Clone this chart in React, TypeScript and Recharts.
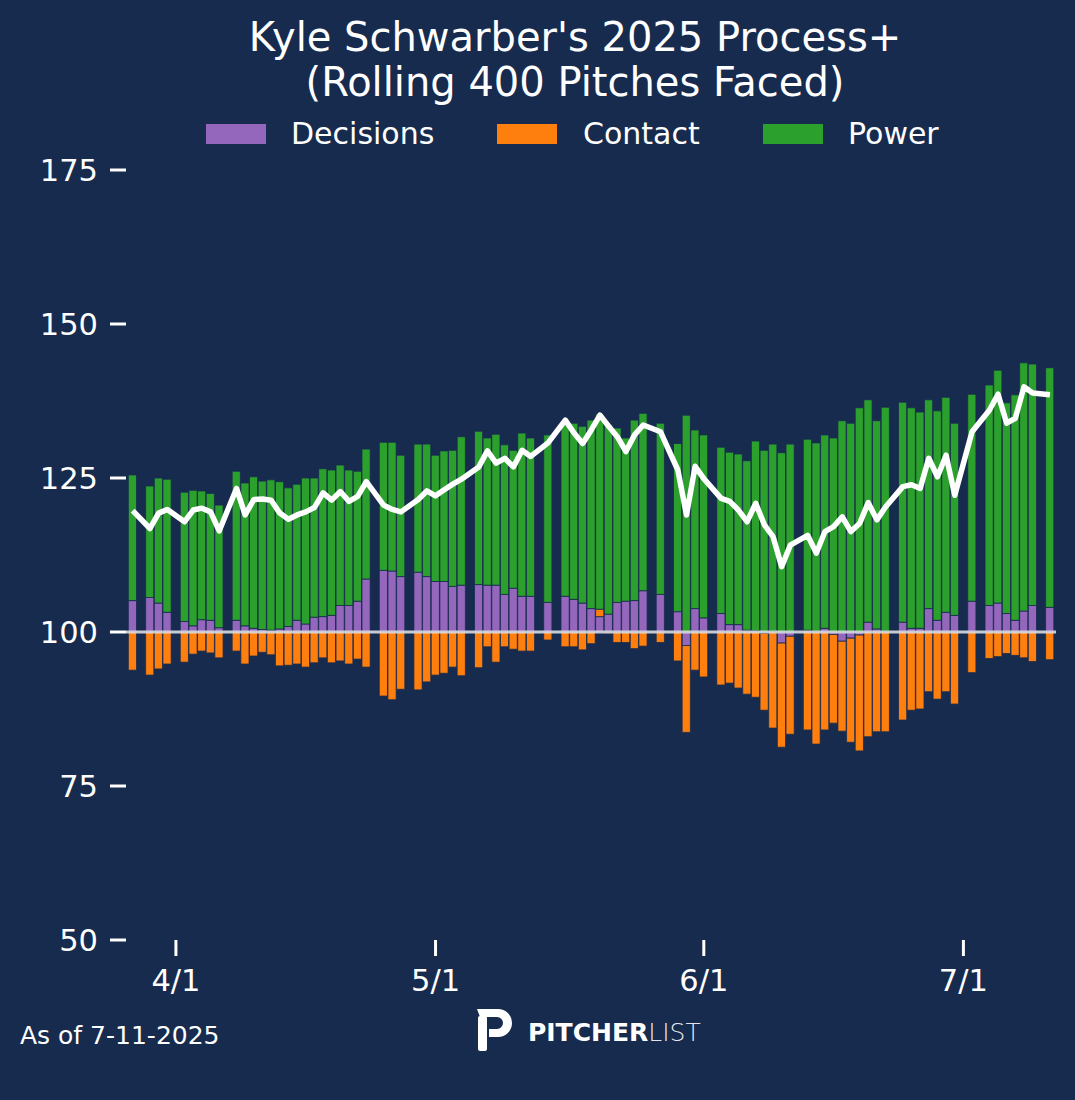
import React from "react";
import { ComposedChart, Bar, Line, XAxis, YAxis, ReferenceLine } from "recharts";

// game dates (off days are simply missing)
const gameDates = [
  "3/27", "3/29", "3/30", "3/31", "4/2", "4/3", "4/4", "4/5", "4/6", "4/8",
  "4/9", "4/10", "4/11", "4/12", "4/13", "4/14", "4/15", "4/16", "4/17", "4/18",
  "4/19", "4/20", "4/21", "4/22", "4/23", "4/25", "4/26", "4/27", "4/29", "4/30",
  "5/1", "5/2", "5/3", "5/4", "5/6", "5/7", "5/8", "5/9", "5/10", "5/11",
  "5/12", "5/14", "5/16", "5/17", "5/18", "5/19", "5/20", "5/21", "5/22", "5/23",
  "5/24", "5/25", "5/27", "5/29", "5/30", "5/31", "6/1", "6/3", "6/4", "6/5",
  "6/6", "6/7", "6/8", "6/9", "6/10", "6/11", "6/13", "6/14", "6/15", "6/16",
  "6/17", "6/18", "6/19", "6/20", "6/21", "6/22", "6/24", "6/25", "6/26", "6/27",
  "6/28", "6/29", "6/30", "7/2", "7/4", "7/5", "7/6", "7/7", "7/8", "7/9",
  "7/11",
];

// components of Process+, points above/below league average (100)
const decisions = [
  5.1, 5.6, 4.7, 3.2, 1.7, 1.0, 2.0, 1.9, 0.7, 1.9,
  1.0, 0.6, 0.4, 0.3, 0.5, 0.9, 1.9, 1.3, 2.4, 2.5,
  2.7, 4.3, 4.3, 5.0, 8.6, 10.0, 9.9, 9.0, 9.7, 9.0,
  8.2, 8.2, 7.4, 7.6, 7.7, 7.6, 7.6, 6.1, 7.1, 5.8,
  5.8, 4.8, 5.8, 5.3, 4.7, 3.8, 2.5, 2.9, 4.8, 5.0,
  5.1, 6.7, 6.1, 3.3, -2.2, 3.8, 2.3, 3.0, 1.2, 1.2,
  0.3, 0.2, -0.2, 0.1, -1.8, -0.7, 0.3, 0.1, 0.6, -0.4,
  -1.5, -1.0, -0.5, 1.6, 0.5, 0.1, 1.6, 0.6, 0.6, 3.8,
  1.9, 3.2, 2.7, 5.0, 4.3, 4.7, 3.0, 1.9, 3.4, 4.3,
  4.0,
];

const contact = [
  -6.2, -7.0, -6.0, -5.2, -4.9, -3.6, -3.1, -3.4, -4.2, -3.1,
  -5.2, -3.9, -3.3, -3.7, -5.5, -5.4, -5.2, -5.7, -5.0, -4.2,
  -5.0, -4.7, -5.2, -4.4, -5.7, -10.4, -11.0, -9.3, -9.4, -8.1,
  -7.0, -6.7, -5.7, -7.1, -5.8, -2.4, -4.9, -2.4, -2.8, -3.1,
  -3.1, -1.3, -2.4, -2.4, -2.9, -1.9, 1.2, -0.2, -1.7, -1.7,
  -2.7, -2.3, -1.7, -4.7, -14.1, -6.2, -7.3, -8.6, -8.3, -9.1,
  -10.1, -10.6, -12.5, -15.6, -16.9, -15.9, -15.9, -18.2, -15.9, -14.4,
  -14.6, -16.9, -18.8, -17.0, -16.2, -16.2, -14.3, -12.7, -12.5, -9.7,
  -10.9, -9.7, -11.7, -6.6, -4.3, -4.0, -3.5, -3.8, -4.2, -4.8,
  -4.5,
];

const power = [
  20.4, 18.1, 20.3, 21.6, 21.0, 22.0, 20.9, 20.6, 19.9, 24.2,
  23.2, 24.6, 24.1, 24.4, 23.9, 22.5, 22.1, 23.7, 22.6, 24.0,
  23.6, 22.8, 22.0, 21.1, 21.1, 20.8, 20.9, 19.7, 20.8, 21.5,
  20.5, 21.2, 22.1, 24.1, 24.9, 23.9, 24.5, 24.3, 22.4, 26.5,
  25.7, 27.2, 28.1, 28.6, 28.7, 30.6, 31.7, 30.8, 28.3, 26.5,
  29.3, 28.8, 27.8, 27.3, 35.2, 29.0, 29.7, 27.0, 28.0, 27.7,
  27.5, 30.8, 29.5, 30.4, 29.1, 30.5, 31.0, 30.6, 31.4, 31.5,
  34.3, 33.9, 36.4, 36.1, 33.8, 36.4, 35.7, 35.8, 35.1, 33.9,
  34.0, 34.9, 31.2, 33.6, 35.8, 37.8, 34.2, 36.6, 40.3, 39.2,
  38.9,
];

// overall Process+ (white line)
const processPlus = [
  119.7, 116.8, 119.3, 119.9, 117.9, 119.8, 120.1, 119.5, 116.4, 123.3,
  119.0, 121.5, 121.6, 121.4, 119.3, 118.3, 119.0, 119.5, 120.2, 122.6,
  121.4, 122.8, 121.2, 122.0, 124.4, 120.6, 119.9, 119.5, 121.5, 122.9,
  122.1, 123.1, 124.0, 124.8, 126.8, 129.4, 127.4, 128.2, 126.8, 129.5,
  128.5, 130.7, 134.4, 132.3, 130.6, 132.8, 135.2, 133.4, 131.7, 129.3,
  132.0, 133.6, 132.5, 126.3, 119.0, 126.9, 124.9, 121.7, 121.2, 119.8,
  117.9, 120.9, 117.4, 115.5, 110.6, 114.1, 115.7, 112.8, 116.3, 117.1,
  118.7, 116.3, 117.6, 121.0, 118.2, 120.3, 123.6, 123.9, 123.3, 128.2,
  125.2, 128.7, 122.2, 132.5, 136.0, 138.6, 133.9, 134.7, 139.8, 138.8,
  138.5,
];

const dateTicks = ["4/1", "5/1", "6/1", "7/1"];
const valueTicks = [50, 75, 100, 125, 150, 175];

const BG = "#172b4f";
const FONT = "DejaVu Sans";
const PURPLE = "#9467bd";
const ORANGE = "#ff7f0e";
const GREEN = "#2ca02c";

// days since opening day (3/27)
const monthStart: Record<number, number> = { 3: 0, 4: 31, 5: 61, 6: 92, 7: 122 };
const dayIndex = (md: string) => {
  const [m, d] = md.split("/").map(Number);
  return monthStart[m] + d - 27;
};

// the axis is drawn relative to 100, so the stack can diverge around it
const data = gameDates.map((date, i) => ({
  date,
  day: dayIndex(date),
  decisions: decisions[i],
  contact: contact[i],
  power: power[i],
  total: processPlus[i] - 100,
}));

const tickLabel: Record<number, string> = {};
dateTicks.forEach((t) => (tickLabel[dayIndex(t)] = t));

export default function App() {
  return (
    <div
      style={{
        position: "fixed",
        left: 0,
        top: 0,
        width: 1075,
        height: 1100,
        background: BG,
        fontFamily: FONT,
      }}
    >
      <ComposedChart
        width={1075}
        height={1100}
        data={data}
        stackOffset="sign"
        margin={{ top: 170, right: 19, left: 26, bottom: 100 }}
      >
        <XAxis
          type="number"
          dataKey="day"
          domain={[-0.77, 106.7]}
          allowDataOverflow
          ticks={dateTicks.map(dayIndex)}
          tickFormatter={(v) => tickLabel[v] ?? ""}
          interval={0}
          height={60}
          axisLine={false}
          tickSize={16}
          tickMargin={13}
          tickLine={{ stroke: "#ffffff", strokeWidth: 3 }}
          tick={{ fill: "#ffffff", fontSize: 30.5, fontFamily: FONT }}
        />
        <YAxis
          type="number"
          domain={[-50, 75]}
          allowDataOverflow
          ticks={valueTicks.map((v) => v - 100)}
          tickFormatter={(v) => String(v + 100)}
          interval={0}
          width={100}
          axisLine={false}
          tickSize={16}
          tickMargin={12}
          tickLine={{ stroke: "#ffffff", strokeWidth: 3 }}
          tick={{ fill: "#ffffff", fontSize: 30.5, fontFamily: FONT }}
        />
        <Bar dataKey="decisions" stackId="a" fill={PURPLE} barSize={8.2} stroke={BG} strokeWidth={0.8} isAnimationActive={false} />
        <Bar dataKey="contact" stackId="a" fill={ORANGE} barSize={8.2} stroke={BG} strokeWidth={0.8} isAnimationActive={false} />
        <Bar dataKey="power" stackId="a" fill={GREEN} barSize={8.2} stroke={BG} strokeWidth={0.8} isAnimationActive={false} />
        <ReferenceLine y={0} stroke="#e4e6ea" strokeWidth={3} strokeOpacity={0.85} />
        <Line
          dataKey="total"
          type="linear"
          stroke="#ffffff"
          strokeWidth={5.5}
          strokeLinejoin="round"
          dot={false}
          activeDot={false}
          isAnimationActive={false}
        />
      </ComposedChart>

      <svg
        width={1075}
        height={1100}
        style={{ position: "absolute", left: 0, top: 0, pointerEvents: "none" }}
        fontFamily={FONT}
      >
        <text x={575} y={51} fill="#fff" fontSize={40} textAnchor="middle">
          Kyle Schwarber's 2025 Process+
        </text>
        <text x={575} y={96} fill="#fff" fontSize={40} textAnchor="middle">
          (Rolling 400 Pitches Faced)
        </text>

        <rect x={206} y={124} width={60} height={20} fill={PURPLE} />
        <text x={291} y={144} fill="#fff" fontSize={30}>Decisions</text>
        <rect x={497} y={124} width={60} height={20} fill={ORANGE} />
        <text x={583} y={144} fill="#fff" fontSize={30}>Contact</text>
        <rect x={763} y={124} width={60} height={20} fill={GREEN} />
        <text x={848} y={144} fill="#fff" fontSize={30}>Power</text>

        <text x={20} y={1044} fill="#fff" fontSize={25}>As of 7-11-2025</text>

        <rect x={478} y={1016} width={9} height={35} rx={2} fill="#fff" />
        <path
          d="M 477 1009 H 498 A 14 14 0 0 1 498 1037 H 489 V 1029 H 497 A 6 6 0 0 0 497 1017 H 480 Z"
          fill="#fff"
        />
        <text x={528} y={1041} fill="#fff" fontSize={25}>
          <tspan fontWeight="bold">PITCHER</tspan>
          <tspan fontWeight={200} fillOpacity={0.9}>LIST</tspan>
        </text>
      </svg>
    </div>
  );
}
